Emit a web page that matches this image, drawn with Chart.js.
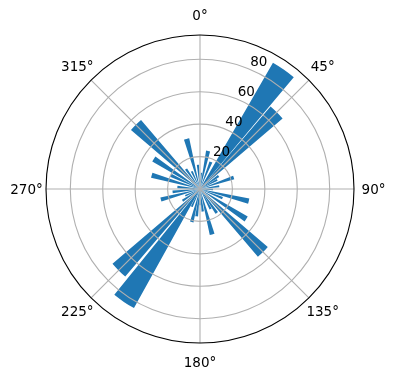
<!DOCTYPE html>
<html><head><meta charset="utf-8">
<script src="https://cdn.jsdelivr.net/npm/chart.js@4/dist/chart.umd.min.js"></script>
<style>html,body{margin:0;padding:0;background:#fff}#wrap{width:396px;height:380px}</style>
</head><body><div id="wrap"><canvas id="c" width="396" height="380"></canvas></div>
<script>
// Bars: centre angle (deg, clockwise from north), angular width (deg), radial value
const BAR_CENTERS = [5, 12, 22, 35, 45, 55, 62, 71, 82, 92, 104, 112, 123, 135, 145, 152, 165, 173, 180, 187, 194, 205, 214, 225, 236, 245, 255, 264, 275, 286, 295, 303, 315, 325, 335, 345, 355];
const BAR_WIDTHS  = [4, 6, 6, 10, 9, 6, 6, 6, 6, 6, 6, 6, 6, 9, 6, 6, 6, 6, 4, 6, 6, 6, 10, 9, 6, 6, 6, 6, 6, 6, 6, 6, 9, 6, 6, 6, 5];
const BAR_VALUES  = [10, 24, 18, 90, 67, 14, 12, 22, 12, 8, 31, 15, 34, 55, 18, 14, 29, 14, 10, 17, 21, 12, 84, 71, 13, 10, 25, 17, 14, 31, 20, 34, 56, 15, 12, 32, 15];
const R_MAX = 95;
const R_TICKS = [20, 40, 60, 80];
const R_TICK_LABELS = ['20', '40', '60', '80'];
const R_LABEL_ANGLE = 22.5;
const ANGLE_TICKS = [0, 45, 90, 135, 180, 225, 270, 315];
const ANGLE_LABELS = ['0°', '45°', '90°', '135°', '180°', '225°', '270°', '315°'];

const bars = BAR_CENTERS.map((c, i) => ({ s: c - BAR_WIDTHS[i] / 2, w: BAR_WIDTHS[i], v: BAR_VALUES[i] }))
  .sort((a, b) => a.s - b.s);
const seqStart = bars[0].s;
const seqValues = [], seqAngles = [], seqColors = [];
let cur = seqStart;
bars.forEach(b => {
  const gap = b.s - cur;
  if (gap > 0.0001) { seqValues.push(0); seqAngles.push(gap); seqColors.push('rgba(0,0,0,0)'); }
  seqValues.push(b.v); seqAngles.push(b.w); seqColors.push('#1f77b4');
  cur = b.s + b.w;
});
const endGap = seqStart + 360 - cur;
if (endGap > 0.0001) { seqValues.push(0); seqAngles.push(endGap); seqColors.push('rgba(0,0,0,0)'); }

const FONT = '13.5px "DejaVu Sans"';

const overlay = {
  id: 'overlay',
  afterDraw(chart) {
    const sc = chart.scales.r;
    const ctx = chart.ctx;
    const cx = sc.xCenter, cy = sc.yCenter, R = sc.drawingArea;
    ctx.save();
    ctx.strokeStyle = '#b0b0b0';
    ctx.lineWidth = 1.1;
    ANGLE_TICKS.forEach(a => {
      const t = a * Math.PI / 180;
      ctx.beginPath();
      ctx.moveTo(cx, cy);
      ctx.lineTo(cx + R * Math.sin(t), cy - R * Math.cos(t));
      ctx.stroke();
    });
    ctx.strokeStyle = '#000';
    ctx.lineWidth = 1.1;
    ctx.beginPath();
    ctx.arc(cx, cy, sc.getDistanceFromCenterForValue(R_MAX), 0, Math.PI * 2);
    ctx.stroke();
    ctx.fillStyle = '#000';
    ctx.font = FONT;
    ctx.textAlign = 'center';
    ctx.textBaseline = 'middle';
    ANGLE_TICKS.forEach((a, i) => {
      const t = a * Math.PI / 180;
      const r = R + 19.5;
      ctx.fillText(ANGLE_LABELS[i], cx + r * Math.sin(t), cy - r * Math.cos(t) + 1);
    });
    ctx.textAlign = 'left';
    ctx.textBaseline = 'alphabetic';
    const t = R_LABEL_ANGLE * Math.PI / 180;
    R_TICKS.forEach((v, i) => {
      const d = sc.getDistanceFromCenterForValue(v);
      const px = cx + d * Math.sin(t), py = cy - d * Math.cos(t);
      ctx.fillText(R_TICK_LABELS[i], px + 0.5, py - 2.7);
    });
    ctx.restore();
  }
};

new Chart(document.getElementById('c'), {
  type: 'polarArea',
  data: {
    labels: seqValues.map((_, i) => String(i)),
    datasets: [{
      data: seqValues,
      backgroundColor: seqColors,
      borderWidth: 0,
      angle: (c) => seqAngles[c.dataIndex]
    }]
  },
  options: {
    responsive: false,
    animation: false,
    devicePixelRatio: 1,
    layout: { padding: { left: 46, right: 42, top: 35, bottom: 37 } },
    plugins: { legend: { display: false }, tooltip: { enabled: false } },
    scales: {
      r: {
        type: 'radialLinear',
        min: 0,
        max: R_MAX,
        startAngle: seqStart,
        ticks: { display: false, stepSize: 20, includeBounds: false },
        grid: { display: true, circular: true, color: '#b0b0b0', lineWidth: 1.1, z: 1 },
        angleLines: { display: false },
        pointLabels: { display: false }
      }
    }
  },
  plugins: [overlay]
});
</script>
</body></html>
